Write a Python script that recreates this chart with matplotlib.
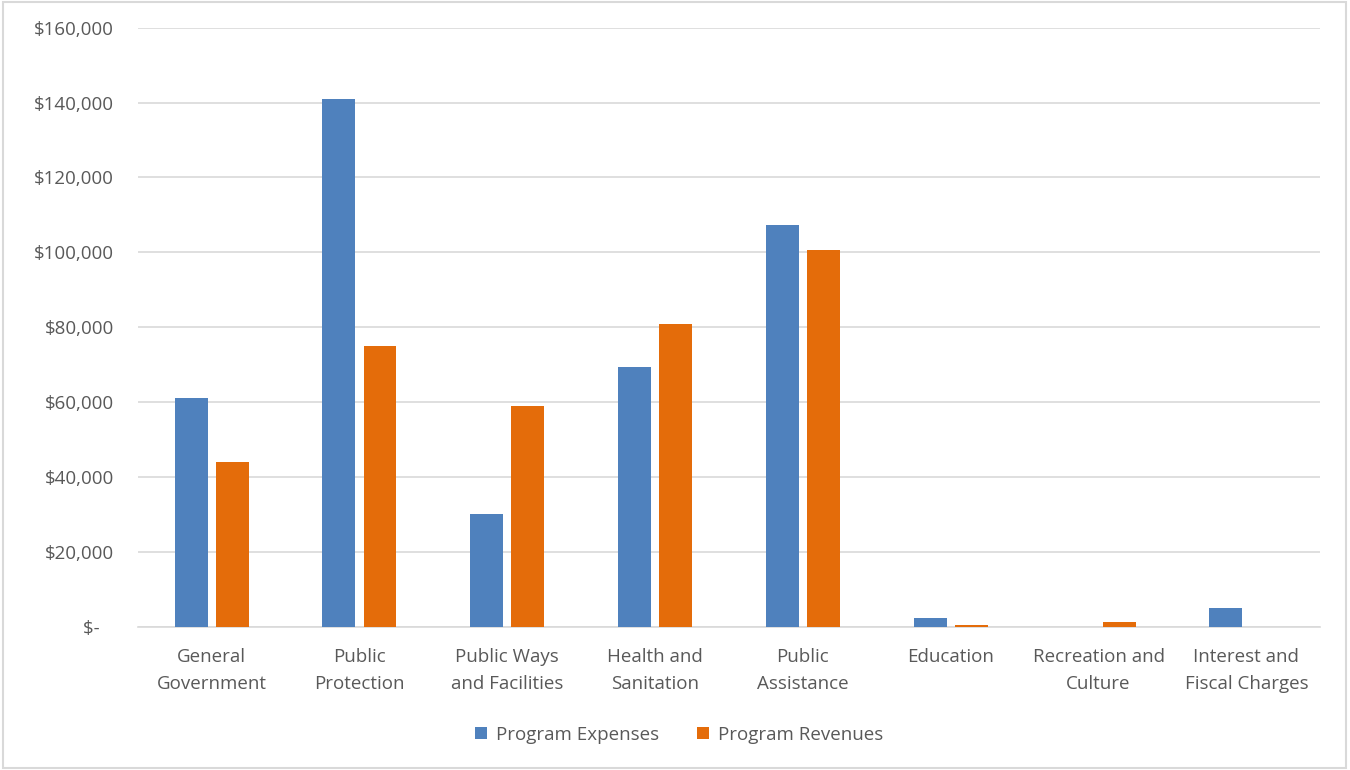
import matplotlib
matplotlib.use('Agg')
import matplotlib.pyplot as plt
import numpy as np
from matplotlib.ticker import FuncFormatter

categories = ['General\nGovernment', 'Public\nProtection', 'Public Ways\nand Facilities',
              'Health and\nSanitation', 'Public\nAssistance', 'Education',
              'Recreation and\nCulture', 'Interest and\nFiscal Charges']
expenses = [61000, 141000, 30000, 69500, 107200, 2400, 0, 5000]
revenues = [44000, 75000, 59000, 80900, 100500, 500, 1200, 0]

blue = '#4F81BD'
orange = '#E46C0A'
grey = '#595959'

plt.rcParams['font.family'] = ['Open Sans', 'DejaVu Sans']

fig = plt.figure(figsize=(13.5, 7.7), dpi=100)
ax = fig.add_axes([0.102, 0.186, 0.876, 0.778])

x = np.arange(len(categories))
w = 0.223
off = 0.139
ax.bar(x - off, expenses, w, color=blue, label='Program Expenses', zorder=3)
ax.bar(x + off, revenues, w, color=orange, label='Program Revenues', zorder=3)

ax.set_xlim(-0.5, len(categories) - 0.5)
ax.set_ylim(0, 160000)
ax.set_yticks(np.arange(0, 160001, 20000))

def fmt(v, pos):
    if v == 0:
        return '$-   '
    return '${:,.0f}'.format(v)

ax.yaxis.set_major_formatter(FuncFormatter(fmt))
ax.set_xticks(x)
ax.set_xticklabels(categories, fontsize=13.5, color=grey, linespacing=1.7)
ax.tick_params(axis='y', labelsize=13.5, labelcolor=grey, length=0, pad=17)
ax.tick_params(axis='x', length=0, pad=15)

ax.grid(axis='y', color='#D9D9D9', linewidth=1.2, zorder=0)
for s in ['top', 'right', 'left']:
    ax.spines[s].set_visible(False)
ax.spines['bottom'].set_color('#D9D9D9')
ax.spines['bottom'].set_linewidth(1.2)

leg = fig.legend(loc='center', bbox_to_anchor=(0.503, 0.046), ncol=2, frameon=False,
                 fontsize=13.5, handlelength=0.65, handleheight=0.65, columnspacing=2.0,
                 handletextpad=0.5)
for t in leg.get_texts():
    t.set_color(grey)

# thin border around the whole chart
fig.patches.append(plt.Rectangle((0.002, 0.003), 0.995, 0.994, transform=fig.transFigure,
                                 fill=False, edgecolor='#D9D9D9', linewidth=1.5))

fig.savefig('out.png', dpi=100)
